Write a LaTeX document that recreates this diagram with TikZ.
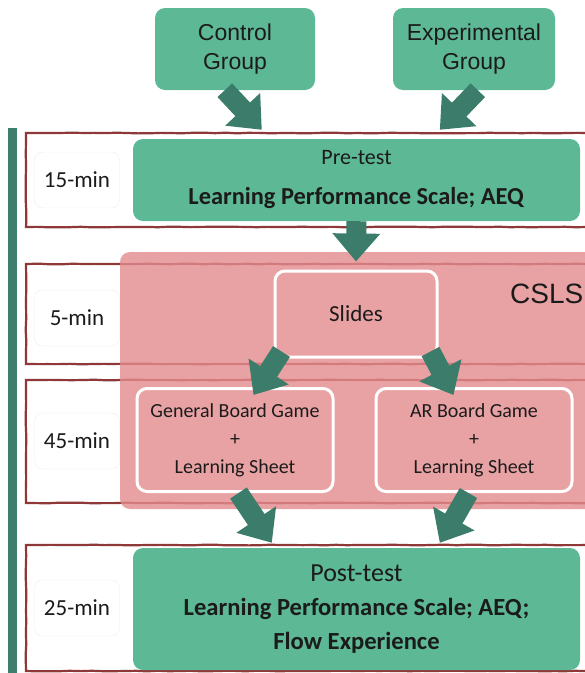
\documentclass[tikz,border=0pt]{standalone}
\usepackage{fontspec}
\setmainfont{Carlito}
\newfontfamily\arialfont{Liberation Sans}
\usetikzlibrary{arrows.meta,decorations.pathmorphing}
\definecolor{boxgreen}{HTML}{5DB896}
\definecolor{arrowgreen}{HTML}{3B7D6A}
\definecolor{bargreen}{HTML}{3D7F6C}
\definecolor{framered}{HTML}{8E3838}
\definecolor{pinkarea}{RGB}{228,139,141}
\definecolor{pinkbox}{RGB}{233,162,164}
\definecolor{textdark}{HTML}{1B1B1B}
\pgfmathsetseed{7}
\begin{document}
\begin{tikzpicture}[x=1pt, y=-1pt, >={Triangle[length=28pt,width=46pt]},
    greenbox/.style={fill=boxgreen, rounded corners=10pt, text=textdark, align=center, inner sep=0pt},
    pinkbox/.style={fill=pinkbox, draw=white, line width=3pt, rounded corners=10pt, text=textdark, align=center, inner sep=0pt},
    minbox/.style={fill=white, draw=black!7, rounded corners=8pt, minimum width=85pt, minimum height=56pt,
      text=textdark, font=\fontsize{23}{28}\selectfont},
    rowframe/.style={draw=framered, line width=2.2pt, decorate,
      decoration={random steps, segment length=11pt, amplitude=0.35pt}},
    blockarrow/.style={->, draw=arrowgreen, line width=20pt}]
    \useasboundingbox (0,0) rectangle (585,673);
    \fill[bargreen] (8,128) rectangle (17,673);
    % time rows
    \draw[rowframe] (600,133) -| (26,227) -- (600,227);
    \draw[rowframe] (600,264) -| (26,364) -- (600,364);
    \draw[rowframe] (600,380) -| (26,503) -- (600,503);
    \draw[rowframe] (600,545) -| (26,671) -- (600,671);
    \fill[pinkarea, fill opacity=0.8, rounded corners=10pt] (120,252) rectangle (610,509);
    \node[anchor=base west, inner sep=0pt, text=textdark, font=\arialfont\fontsize{28}{32}\selectfont] (csls) at (510,303) {CSLS};

    \node[minbox] (m15) at (77,180) {15-min};
    \node[minbox] (m5) at (77,318) {5-min};
    \node[minbox] (m45) at (77,441) {45-min};
    \node[minbox] (m25) at (77,608) {25-min};

    \node[greenbox, minimum width=160pt, minimum height=82pt, font=\arialfont\fontsize{23}{29}\selectfont] (ctrl) at (235,49) {Control\\Group};
    \node[greenbox, minimum width=162pt, minimum height=82pt, font=\arialfont\fontsize{23}{29}\selectfont] (expt) at (474,49) {Experimental\\Group};
    \node[greenbox, minimum width=447pt, minimum height=82pt, font=\fontsize{22}{40}\selectfont] (pre) at (356.5,180)
      {Pre-test\\\textbf{\fontsize{24.4}{40}\selectfont Learning Performance Scale; AEQ}};
    \node[pinkbox, minimum width=162pt, minimum height=86pt, font=\fontsize{23}{26}\selectfont] (slides) at (356,314) {Slides};
    \node[pinkbox, minimum width=196pt, minimum height=103pt, font=\fontsize{20}{28}\selectfont] (general) at (235,440)
      {General Board Game\\+\\Learning Sheet};
    \node[pinkbox, minimum width=196pt, minimum height=103pt, font=\fontsize{20}{28}\selectfont] (ar) at (474,440)
      {AR Board Game\\+\\Learning Sheet};
    \node[greenbox, minimum width=447pt, minimum height=122pt, font=\fontsize{24.6}{34}\selectfont] (post) at (356.5,609)
      {{\fontsize{26}{34}\selectfont Post-test}\\\textbf{Learning Performance Scale; AEQ;}\\\textbf{Flow Experience}};

    \draw[blockarrow] ([xshift=70pt]ctrl.south west) -- ([xshift=129pt,yshift=9pt]pre.north west);
    \draw[blockarrow] ([xshift=85pt]expt.south west) -- ([xshift=307pt,yshift=9pt]pre.north west);
    \draw[blockarrow] (pre.south) -- ([yshift=8pt]slides.north);
    \draw[blockarrow] ([xshift=8pt,yshift=7pt]slides.south west) -- ([xshift=-81pt,yshift=-8pt]general.north east);
    \draw[blockarrow] ([xshift=-8pt,yshift=7pt]slides.south east) -- ([xshift=79pt,yshift=-8pt]ar.north west);
    \draw[blockarrow] ([xshift=103pt]general.south west) -- ([xshift=139pt,yshift=5pt]post.north west);
    \draw[blockarrow] ([xshift=94pt]ar.south west) -- ([xshift=307pt,yshift=5pt]post.north west);
  \end{tikzpicture}
\end{document}
